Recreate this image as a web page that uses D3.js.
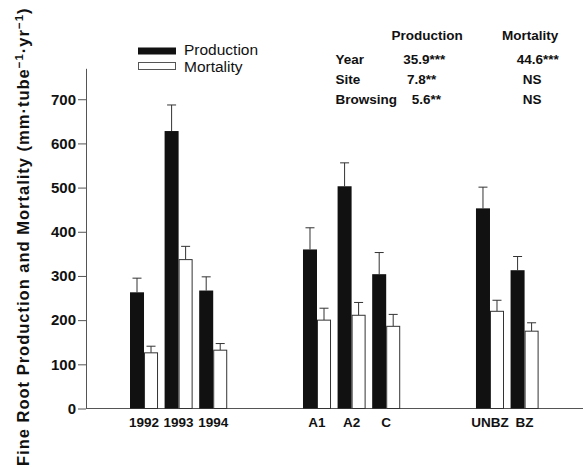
<!DOCTYPE html>
<html>
<head>
<meta charset="utf-8">
<script src="https://cdn.jsdelivr.net/npm/d3@7"></script>
<style>
  body { margin: 0; background: #fff; }
  svg { display: block; font-family: "Liberation Sans", Arial, sans-serif; }
</style>
</head>
<body>
<div id="chart"></div>
<script>
// Data
const groups = [["1992", "1993", "1994"], ["A1", "A2", "C"], ["UNBZ", "BZ"]];
const categories = ["1992", "1993", "1994", "A1", "A2", "C", "UNBZ", "BZ"];
const production = [263, 628, 267, 360, 503, 304, 453, 313];
const productionSE = [32, 59, 31, 49, 53, 49, 48, 31];
const mortality = [126, 337, 132, 200, 211, 186, 220, 175];
const mortalitySE = [15, 30, 15, 27, 29, 27, 25, 19];
const yTicks = [0, 100, 200, 300, 400, 500, 600, 700];

const statHeaders = ["Production", "Mortality"];
const statRows = ["Year", "Site", "Browsing"];
const statProduction = ["35.9***", "7.8**", "5.6**"];
const statMortality = ["44.6***", "NS", "NS"];

const W = 583, H = 468;
const ink = "#111", axisGrey = "#555";

const svg = d3.select("#chart")
    .append("svg")
    .attr("width", W)
    .attr("height", H);

// slots along x: categories with two empty slots between groups
const slots = [];
groups.forEach((g, i) => {
    if (i > 0) slots.push("gap" + i + "a", "gap" + i + "b");
    g.forEach(c => slots.push(c));
});

const x = d3.scaleBand()
    .domain(slots)
    .range([130, 538.6])
    .paddingInner(0.19)
    .paddingOuter(0);

const sub = d3.scaleBand()
    .domain(["production", "mortality"])
    .range([0, x.bandwidth()]);

const y = d3.scaleLinear()
    .domain([0, 770])
    .range([408.5, 68.3]);

// y axis
const yAxis = svg.append("g")
    .attr("transform", "translate(86,0)")
    .call(d3.axisLeft(y).tickValues(yTicks).tickSize(8).tickPadding(2).tickSizeOuter(0));
yAxis.select(".domain").attr("stroke", axisGrey);
yAxis.selectAll(".tick line").attr("stroke", axisGrey);
yAxis.selectAll(".tick text")
    .attr("fill", ink)
    .style("font-size", "15px")
    .style("font-weight", "bold")
    .style("font-family", "'Liberation Sans', Arial, sans-serif");

// x axis line
svg.append("line")
    .attr("x1", 86).attr("x2", 583)
    .attr("y1", y(0)).attr("y2", y(0))
    .attr("stroke", axisGrey);

// x labels
svg.append("g").selectAll("text")
    .data(categories)
    .join("text")
    .attr("x", d => x(d) + x.bandwidth() / 2)
    .attr("y", 427)
    .attr("text-anchor", "middle")
    .style("font-size", "13.5px")
    .style("font-weight", "bold")
    .attr("fill", ink)
    .text(d => d);

const rows = categories.map((c, i) => ({
    cat: c,
    production: production[i], productionSE: productionSE[i],
    mortality: mortality[i], mortalitySE: mortalitySE[i]
}));

const capW = 9;
["production", "mortality"].forEach(key => {
    const g = svg.append("g");
    // error bars (upper only)
    g.selectAll("line.err")
        .data(rows)
        .join("line")
        .attr("class", "err")
        .attr("x1", d => x(d.cat) + sub(key) + sub.bandwidth() / 2)
        .attr("x2", d => x(d.cat) + sub(key) + sub.bandwidth() / 2)
        .attr("y1", d => y(d[key]))
        .attr("y2", d => y(d[key] + d[key + "SE"]))
        .attr("stroke", "#333");
    g.selectAll("line.cap")
        .data(rows)
        .join("line")
        .attr("class", "cap")
        .attr("x1", d => x(d.cat) + sub(key) + sub.bandwidth() / 2 - capW / 2)
        .attr("x2", d => x(d.cat) + sub(key) + sub.bandwidth() / 2 + capW / 2)
        .attr("y1", d => y(d[key] + d[key + "SE"]))
        .attr("y2", d => y(d[key] + d[key + "SE"]))
        .attr("stroke", "#333");
    g.selectAll("rect")
        .data(rows)
        .join("rect")
        .attr("x", d => x(d.cat) + sub(key) + (key === "mortality" ? 0.5 : 0))
        .attr("y", d => y(d[key]))
        .attr("width", sub.bandwidth() - (key === "mortality" ? 1 : 0))
        .attr("height", d => y(0) - y(d[key]))
        .attr("fill", key === "production" ? ink : "#fff")
        .attr("stroke", key === "production" ? "none" : "#333");
});

// legend
const legend = svg.append("g");
legend.append("rect")
    .attr("x", 138).attr("y", 47.5).attr("width", 38).attr("height", 7)
    .attr("fill", ink);
legend.append("rect")
    .attr("x", 138.5).attr("y", 62.5).attr("width", 37).attr("height", 7)
    .attr("fill", "#fff").attr("stroke", "#555");
legend.append("text")
    .attr("x", 184).attr("y", 54.5)
    .style("font-size", "15.5px").attr("fill", ink)
    .text("Production");
legend.append("text")
    .attr("x", 184).attr("y", 71.5)
    .style("font-size", "15.5px").attr("fill", ink)
    .text("Mortality");

// statistics table
const stats = svg.append("g")
    .style("font-size", "13.5px")
    .style("font-weight", "bold")
    .attr("fill", ink);
stats.append("text").attr("x", 391.5).attr("y", 40).text(statHeaders[0]);
stats.append("text").attr("x", 502).attr("y", 40).text(statHeaders[1]);
const prodX = [403.3, 407, 411.7];
const mortX = [516.7, 522.7, 522.7];
statRows.forEach((r, i) => {
    const yy = 63.5 + i * 20;
    stats.append("text").attr("x", 335.5).attr("y", yy).text(r);
    stats.append("text").attr("x", prodX[i]).attr("y", yy).text(statProduction[i]);
    stats.append("text").attr("x", mortX[i]).attr("y", yy).text(statMortality[i]);
});

// y-axis title
const title = svg.append("text")
    .attr("transform", "translate(28.5,466) rotate(-90)")
    .style("font-size", "16.5px")
    .style("font-weight", "bold")
    .style("letter-spacing", "1px")
    .attr("fill", ink);
title.append("tspan").text("Fine Root Production and Mortality (mm·tube");
title.append("tspan").attr("dy", -6).style("font-size", "11.5px").text("−1");
title.append("tspan").attr("dy", 6).text("·yr");
title.append("tspan").attr("dy", -6).style("font-size", "11.5px").text("−1");
title.append("tspan").attr("dy", 6).text(")");
</script>
</body>
</html>
